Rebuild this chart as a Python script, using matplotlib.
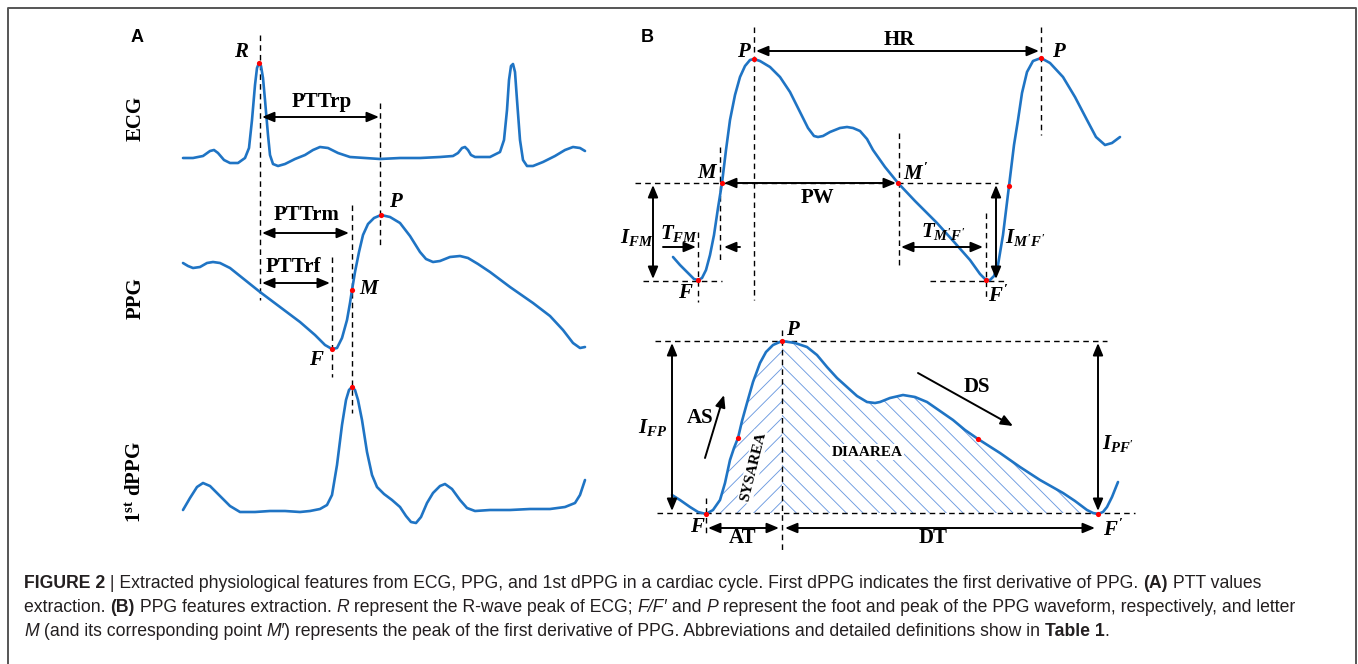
import numpy as np
import matplotlib
matplotlib.use('Agg')
import matplotlib.pyplot as plt

plt.rcParams['mathtext.fontset'] = 'custom'
plt.rcParams['mathtext.rm'] = 'Liberation Serif:bold'
plt.rcParams['mathtext.it'] = 'Liberation Serif:italic:bold'
plt.rcParams['mathtext.bf'] = 'Liberation Serif:bold'
plt.rcParams['hatch.linewidth'] = 0.65

BLUE = '#1f74c4'
HATCH = '#6d9be0'

# --- waveforms (pixel coords, y down) ---
ecg = [(183, 158), (193, 158), (203, 156), (210, 151), (214, 150), (218, 153), (224, 160),
       (230, 163), (238, 163), (245, 158), (249, 148), (252, 120), (255, 85), (257, 68),
       (259, 63), (261, 66), (263, 78), (265, 100), (268, 135), (270, 155), (273, 164), (278, 166),
       (285, 164), (295, 159), (305, 155), (313, 150), (320, 147), (328, 148), (338, 153),
       (350, 157), (365, 158), (380, 159), (400, 158), (420, 158), (440, 157), (453, 156),
       (458, 153), (462, 148), (465, 147), (468, 150), (471, 155), (475, 157), (490, 157),
       (500, 152), (504, 140), (507, 110), (509, 80), (511, 66), (513, 64), (515, 72), (517, 100),
       (520, 140), (523, 160), (527, 166), (533, 166), (543, 162), (555, 156), (565, 150),
       (573, 147), (580, 148), (585, 151)]

ppg_a = [(183, 263), (188, 266), (193, 268), (200, 267), (207, 263), (213, 262), (220, 263),
         (230, 268), (245, 280), (260, 292), (280, 307), (300, 322), (315, 335), (325, 345),
         (332, 349), (337, 348), (342, 338), (347, 320), (350, 303), (352, 290), (355, 272),
         (359, 252), (363, 235), (368, 224), (374, 218), (381, 215), (390, 217), (400, 223),
         (410, 236), (420, 252), (426, 259), (433, 262), (440, 261), (450, 257), (460, 256),
         (468, 258), (478, 264), (490, 272), (510, 287), (533, 303), (550, 316), (563, 330),
         (573, 343), (580, 348), (585, 347)]

dppg = [(183, 510), (190, 498), (197, 487), (203, 483), (210, 486), (220, 496), (230, 506),
        (240, 512), (255, 512), (270, 511), (285, 511), (300, 512), (310, 511), (320, 509),
        (327, 505), (332, 495), (337, 465), (342, 425), (346, 400), (349, 390), (352, 387),
        (355, 390), (358, 400), (362, 420), (367, 452), (372, 475), (377, 487), (384, 494),
        (392, 500), (400, 507), (406, 516), (411, 522), (416, 523), (421, 517), (427, 503),
        (433, 493), (440, 486), (445, 484), (452, 489), (460, 500), (467, 508), (475, 511),
        (490, 510), (510, 510), (530, 509), (550, 509), (565, 507), (575, 503), (580, 495),
        (585, 480)]

ppg_b = [(673, 257), (680, 265), (688, 273), (694, 279), (698, 280), (702, 278), (706, 270),
         (710, 255), (714, 235), (718, 208), (722, 183), (726, 150), (730, 120), (735, 95),
         (740, 77), (745, 66), (750, 60), (754, 59), (760, 61), (770, 67), (780, 77), (790, 92),
         (800, 112), (808, 128), (814, 136), (818, 137), (823, 136), (830, 132), (840, 128),
         (847, 127), (853, 128), (860, 131), (867, 139), (873, 150), (885, 167), (898, 183),
         (915, 201), (937, 223), (955, 243), (970, 260), (980, 274), (986, 280), (990, 280),
         (994, 276), (998, 265), (1003, 235), (1009, 186), (1014, 145), (1018, 120),
         (1022, 93), (1027, 72), (1033, 61), (1041, 58), (1050, 63), (1063, 77), (1075, 97),
         (1087, 120), (1096, 137), (1105, 145), (1112, 143), (1120, 137)]

ppg_c = [(672, 495), (680, 500), (690, 507), (698, 512), (706, 514), (713, 510), (720, 500),
         (725, 483), (730, 460), (734, 448), (738, 438), (742, 421), (747, 403), (753, 382),
         (760, 363), (766, 352), (773, 345), (782, 341), (795, 343), (807, 347), (817, 355),
         (827, 367), (837, 378), (847, 387), (857, 396), (867, 402), (875, 403), (880, 402),
         (890, 398), (903, 395), (915, 397), (927, 402), (940, 411), (953, 420), (965, 430),
         (978, 439), (1000, 453), (1020, 467), (1040, 480), (1063, 493), (1075, 501),
         (1087, 510), (1093, 513), (1098, 514), (1103, 512), (1107, 507), (1112, 497),
         (1118, 482)]

red_dots = [(259, 63), (381, 215), (352, 290), (332, 349), (352, 387),
            (698, 280), (722, 183), (754, 59), (898, 183), (986, 280), (1009, 186), (1041, 58),
            (706, 514), (738, 438), (782, 341), (978, 439), (1098, 514)]

# area split (foot, peak, foot') and baseline
area_x = [706, 782, 1098]
area_base = 513

# dashed guide lines: (x0, y0, x1, y1)
dashes = [(260, 35, 260, 300), (380, 103, 380, 247), (352, 205, 352, 413), (332, 257, 332, 377),
          (754, 27, 754, 300), (1041, 27, 1041, 135), (720, 147, 720, 260), (899, 133, 899, 268),
          (698, 232, 698, 302), (986, 213, 986, 297), (635, 183, 998, 183), (643, 281, 722, 281),
          (930, 281, 1007, 281), (655, 341, 1107, 341), (657, 513, 1135, 513),
          (782, 330, 782, 550), (706, 498, 706, 533)]

# double arrows: (x0, y0, x1, y1)
double_arrows = [(262, 117, 379, 117), (262, 233, 349, 233), (262, 283, 330, 283),
                 (756, 51, 1039, 51), (724, 183, 896, 183), (653, 185, 653, 279),
                 (901, 247, 983, 247), (996, 185, 996, 279), (672, 343, 672, 511),
                 (1098, 343, 1098, 511), (708, 528, 779, 528), (785, 528, 1095, 528)]
# single arrows: (from x, from y, to x, to y)
single_arrows = [(663, 247, 696, 247), (740, 247, 724, 247),
                 (705, 458, 724, 395), (918, 373, 1013, 426)]

# labels: (x, y, text, style)
labels = [(241, 52, 'R', 'bi'), (322, 102, 'PTTrp', 'b'), (307, 215, 'PTTrm', 'b'),
          (293, 267, 'PTTrf', 'b'), (395, 202, 'P', 'bi'), (369, 289, 'M', 'bi'),
          (316, 360, 'F', 'bi'),
          (743, 52, 'P', 'bi'), (1058, 52, 'P', 'bi'), (899, 40, 'HR', 'b'),
          (707, 173, 'M', 'bi'), (916, 173, r"$M'$", 'm'), (817, 198, 'PW', 'b'),
          (637, 238, r'$I_{FM}$', 'm'), (679, 233, r'$T_{FM}$', 'm'),
          (943, 231, r"$T_{M'F'}$", 'm'), (1025, 237, r"$I_{M'F'}$", 'm'),
          (685, 293, 'F', 'bi'), (998, 295, r"$F'$", 'm'),
          (792, 330, 'P', 'bi'), (700, 418, 'AS', 'b'), (977, 387, 'DS', 'b'),
          (653, 427, r'$I_{FP}$', 'm'), (1118, 443, r"$I_{PF'}$", 'm'),
          (697, 527, 'F', 'bi'), (1113, 529, r"$F'$", 'm'),
          (743, 538, 'AT', 'b'), (933, 538, 'DT', 'b')]

row_labels = [(136, 118, 'ECG'), (136, 298, 'PPG'), (136, 482, r'$\mathrm{1^{st}\ dPPG}$')]
panel_labels = [(137, 37, 'A'), (647, 37, 'B')]

caption_lines = [
    [('FIGURE 2', 'b'), (' | Extracted physiological features from ECG, PPG, and 1st dPPG in a cardiac '
                         'cycle. First dPPG indicates the first derivative of PPG. ', 'r'),
     ('(A)', 'b'), (' PTT values', 'r')],
    [('extraction. ', 'r'), ('(B)', 'b'), (' PPG features extraction. ', 'r'), ('R', 'i'),
     (' represent the R-wave peak of ECG; ', 'r'), ('F/F\u2032', 'i'), (' and ', 'r'), ('P', 'i'),
     (' represent the foot and peak of the PPG waveform, respectively, and letter', 'r')],
    [('M', 'i'), (' (and its corresponding point ', 'r'), ('M\u2032', 'i'),
     (') represents the peak of the first derivative of PPG. Abbreviations and detailed '
      'definitions show in ', 'r'), ('Table 1', 'b'), ('.', 'r')],
]
caption_y = [583, 607, 631]

fig = plt.figure(figsize=(13.58, 6.64), dpi=100)
ax = fig.add_axes([0, 0, 1, 1])
ax.set_xlim(0, 1358)
ax.set_ylim(664, 0)
ax.axis('off')

# outer frame
ax.plot([8, 8, 1356, 1356], [664, 8, 8, 664], color='#555555', lw=1.4)

for d in dashes:
    ax.plot([d[0], d[2]], [d[1], d[3]], color='black', lw=1.0, ls=(0, (4, 3)), zorder=2)

# hatched areas under the lower waveform
cx = np.array([p[0] for p in ppg_c])
cy = np.array([p[1] for p in ppg_c])
sys_m = (cx >= area_x[0]) & (cx <= area_x[1])
dia_m = (cx >= area_x[1]) & (cx <= area_x[2])
ax.fill_between(cx[sys_m], cy[sys_m], area_base, facecolor='none', edgecolor=HATCH,
                hatch='//', linewidth=0, zorder=1)
ax.fill_between(cx[dia_m], cy[dia_m], area_base, facecolor='none', edgecolor=HATCH,
                hatch='\\\\', linewidth=0, zorder=1)

for curve in [ecg, ppg_a, dppg, ppg_b, ppg_c]:
    ax.plot([p[0] for p in curve], [p[1] for p in curve], color=BLUE, lw=1.9,
            solid_capstyle='round', solid_joinstyle='round', zorder=3)

ax.scatter([p[0] for p in red_dots], [p[1] for p in red_dots], s=14, color='red',
           zorder=5, linewidths=0)

for a in double_arrows:
    ax.annotate('', xy=(a[2], a[3]), xytext=(a[0], a[1]),
                arrowprops=dict(arrowstyle='<|-|>,head_length=0.6,head_width=0.25',
                                color='black', lw=1.4, shrinkA=0, shrinkB=0,
                                mutation_scale=12), zorder=4)
for a in single_arrows:
    ax.annotate('', xy=(a[2], a[3]), xytext=(a[0], a[1]),
                arrowprops=dict(arrowstyle='-|>,head_length=0.6,head_width=0.25',
                                color='black', lw=1.4, shrinkA=0, shrinkB=0,
                                mutation_scale=12), zorder=4)

for x, y, s, st in labels:
    kw = dict(ha='center', va='center', zorder=6, fontsize=15)
    if st == 'b':
        ax.text(x, y, s, family='Liberation Serif', weight='bold', **kw)
    elif st == 'bi':
        ax.text(x, y, s, family='Liberation Serif', weight='bold', style='italic', **kw)
    else:
        ax.text(x, y, s, **kw)

for x, y, s in row_labels:
    ax.text(x, y, s, family='Liberation Serif', weight='bold', fontsize=15, rotation=90,
            ha='center', va='center')
for x, y, s in panel_labels:
    ax.text(x, y, s, family='Liberation Sans', weight='bold', fontsize=13,
            ha='center', va='center')

box = dict(facecolor='white', edgecolor='none', pad=1)
ax.text(753, 467, 'SYSAREA', family='Liberation Serif', weight='bold', fontsize=11,
        rotation=76, ha='center', va='center', bbox=box, zorder=6)
ax.text(867, 452, 'DIAAREA', family='Liberation Serif', weight='bold', fontsize=11,
        ha='center', va='center', bbox=box, zorder=6)

# caption with mixed styles
renderer = fig.canvas.get_renderer()
cap_font = 'Liberation Sans'
cap_color = '#231f20'


def run_props(st, fs):
    p = dict(family=cap_font, fontsize=fs, color=cap_color)
    if st == 'b':
        p['weight'] = 'bold'
    if st == 'i':
        p['style'] = 'italic'
    return p


def text_w(s, props):
    t = ax.text(0, 0, '|' + s + '|', **props)
    w1 = t.get_window_extent(renderer).width
    t.remove()
    t = ax.text(0, 0, '||', **props)
    w0 = t.get_window_extent(renderer).width
    t.remove()
    return w1 - w0


def line_w(runs, fs):
    return sum(text_w(s, run_props(st, fs)) for s, st in runs)


fs = 12.0
both = line_w(caption_lines[0], fs) + line_w(caption_lines[1], fs)
fs = fs * (1198.0 + 1312.0) / both
for runs, y in zip(caption_lines, caption_y):
    x = 24
    for s, st in runs:
        props = run_props(st, fs)
        ax.text(x, y, s, ha='left', va='center', **props)
        x += text_w(s, props)

fig.savefig('out.png', dpi=100)
